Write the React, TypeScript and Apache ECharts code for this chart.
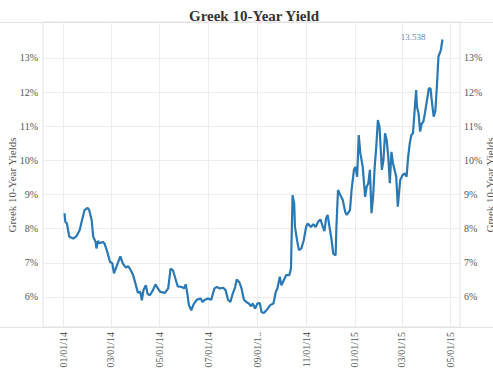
import React, { useEffect, useRef } from "react";
import * as echarts from "echarts";

const dates = [
  "2014-01-02","2014-01-03","2014-01-05","2014-01-08","2014-01-13","2014-01-17","2014-01-21","2014-01-24","2014-01-27","2014-01-31",
  "2014-02-02","2014-02-05","2014-02-07","2014-02-10","2014-02-11","2014-02-13","2014-02-15","2014-02-19","2014-02-21","2014-02-24","2014-02-28",
  "2014-03-03","2014-03-05","2014-03-08","2014-03-13","2014-03-16","2014-03-20","2014-03-23","2014-03-26","2014-03-29",
  "2014-04-01","2014-04-04","2014-04-07","2014-04-09","2014-04-11","2014-04-14","2014-04-16","2014-04-19","2014-04-23","2014-04-26","2014-04-29",
  "2014-05-02","2014-05-08","2014-05-12","2014-05-15","2014-05-18","2014-05-21","2014-05-24","2014-05-29",
  "2014-06-01","2014-06-03","2014-06-05","2014-06-07","2014-06-10","2014-06-13","2014-06-17","2014-06-22","2014-06-24","2014-06-27",
  "2014-07-01","2014-07-05","2014-07-09","2014-07-12","2014-07-16","2014-07-20","2014-07-23","2014-07-26","2014-07-29",
  "2014-08-01","2014-08-04","2014-08-06","2014-08-09","2014-08-12","2014-08-15","2014-08-18","2014-08-21","2014-08-24","2014-08-26","2014-08-29",
  "2014-09-01","2014-09-04","2014-09-06","2014-09-09","2014-09-13","2014-09-17","2014-09-21","2014-09-24","2014-09-26","2014-09-29",
  "2014-10-01","2014-10-04","2014-10-07","2014-10-11","2014-10-13","2014-10-15","2014-10-17","2014-10-18","2014-10-21","2014-10-23","2014-10-26","2014-10-29",
  "2014-11-01","2014-11-03","2014-11-07","2014-11-10","2014-11-13","2014-11-16","2014-11-19","2014-11-22","2014-11-24","2014-11-26","2014-11-28","2014-11-30",
  "2014-12-03","2014-12-05","2014-12-08","2014-12-09","2014-12-11","2014-12-14","2014-12-17","2014-12-20","2014-12-22","2014-12-26","2014-12-28","2014-12-31",
  "2015-01-02","2015-01-04","2015-01-06","2015-01-08","2015-01-11","2015-01-14","2015-01-16","2015-01-18","2015-01-20","2015-01-22","2015-01-24","2015-01-26","2015-01-28","2015-01-30",
  "2015-02-01","2015-02-04","2015-02-06","2015-02-08","2015-02-10","2015-02-12","2015-02-14","2015-02-16","2015-02-18","2015-02-22","2015-02-24","2015-02-27",
  "2015-03-02","2015-03-05","2015-03-07","2015-03-09","2015-03-11","2015-03-13","2015-03-15","2015-03-19","2015-03-20","2015-03-22","2015-03-24","2015-03-26","2015-03-28","2015-03-30",
  "2015-04-02","2015-04-04","2015-04-06","2015-04-08","2015-04-10","2015-04-12","2015-04-14","2015-04-16","2015-04-19","2015-04-21",
];

const yields = [
  8.45, 8.2, 8.15, 7.76, 7.71, 7.78, 7.96, 8.25, 8.54, 8.61,
  8.54, 8.25, 7.76, 7.61, 7.42, 7.64, 7.57, 7.61, 7.57, 7.37, 7.03,
  6.98, 6.69, 6.88, 7.19, 6.98, 6.86, 6.9, 6.78, 6.64,
  6.39, 6.12, 6.15, 5.9, 6.2, 6.34, 6.1, 6.05, 6.2, 6.37, 6.25,
  6.15, 6.12, 6.25, 6.83, 6.78, 6.54, 6.31, 6.29,
  6.25, 6.37, 6.1, 5.76, 5.61, 5.79, 5.92, 5.95, 5.85, 5.92,
  5.95, 5.92, 6.25, 6.29, 6.25, 6.27, 6.2, 5.92, 5.85,
  6.1, 6.29, 6.51, 6.44, 6.25, 5.92, 5.85, 5.81, 5.73, 5.81, 5.66,
  5.81, 5.82, 5.56, 5.53, 5.63, 5.76, 5.81, 6.15, 6.25, 6.59,
  6.34, 6.49, 6.64, 6.64, 6.83, 8.98, 8.74, 8.05, 7.61, 7.37, 7.42, 7.66,
  8.05, 8.15, 8.05, 8.13, 8.05, 8.2, 8.27, 8.05, 7.93, 8.3, 8.4, 8.1,
  7.66, 7.27, 7.22, 8.05, 9.13, 8.98, 8.84, 8.49, 8.4, 8.54, 9.13, 9.72,
  9.81, 9.52, 10.74, 10.21, 9.81, 8.93, 9.23, 9.33, 9.72, 8.45, 8.93, 9.81, 10.4, 11.18,
  10.99, 9.72, 10.01, 10.79, 10.6, 10.11, 9.33, 10.25, 9.91, 9.52, 8.64, 9.42,
  9.57, 9.62, 9.52, 10.11, 10.5, 10.74, 10.79, 12.06, 11.57, 11.38, 10.84, 11.08, 11.13, 11.38,
  11.82, 12.11, 12.11, 11.67, 11.28, 11.43, 12.16, 13.04, 13.23, 13.538,
];

const xTickDates = ["2014-01-01","2014-03-01","2014-05-01","2014-07-01","2014-09-01","2014-11-01","2015-01-01","2015-03-01","2015-05-01"];
const xTickLabels = ["01/01/14","03/01/14","05/01/14","07/01/14","09/01/1..","11/01/14","01/01/15","03/01/15","05/01/15"];
const yTickValues = [6, 7, 8, 9, 10, 11, 12, 13];

const title = "Greek 10-Year Yield";
const yAxisTitle = "Greek 10-Year Yields";

const DAY = 86400000;
const toTs = (s: string) => {
  const [y, m, d] = s.split("-").map(Number);
  return Date.UTC(y, m - 1, d);
};

export default function App() {
  const ref = useRef<HTMLDivElement>(null);
  useEffect(() => {
    if (!ref.current) return;
    const chart = echarts.init(ref.current, undefined, { renderer: "svg" });
    const tickTs = xTickDates.map(toTs);
    const data = dates.map((d, i) => [toTs(d), yields[i]]);
    const last = data[data.length - 1];
    const serif = '"Liberation Serif", "DejaVu Serif", serif';
    const labelColor = "#555";
    const gridColor = "#ededed";
    chart.setOption({
      animation: false,
      backgroundColor: "#fff",
      title: {
        text: title,
        left: 184,
        top: 3,
        textStyle: { fontFamily: serif, fontWeight: "bold", fontSize: 15, color: "#333" },
      },
      grid: {
        left: 43, right: 33, top: 22, bottom: 48,
        show: true, borderColor: "#e2e2e2", borderWidth: 1,
        containLabel: false, outerBoundsMode: "none",
      },
      xAxis: {
        type: "value",
        min: toTs("2013-12-06"),
        max: toTs("2015-05-13"),
        axisLine: { show: false },
        axisTick: { show: false, customValues: tickTs },
        splitLine: { show: true, lineStyle: { color: gridColor, width: 1 } },
        axisLabel: {
          customValues: tickTs,
          rotate: 90,
          margin: 5,
          fontFamily: serif,
          fontSize: 10,
          color: labelColor,
          formatter: (v: number) => {
            let best = 0;
            tickTs.forEach((t, i) => {
              if (Math.abs(t - v) < Math.abs(tickTs[best] - v)) best = i;
            });
            return Math.abs(tickTs[best] - v) < DAY ? xTickLabels[best] : "";
          },
        },
      },
      yAxis: [
        {
          type: "value",
          position: "left",
          min: 5.12,
          max: 14.05,
          axisLine: { show: false },
          axisTick: { show: false, customValues: yTickValues },
          splitLine: { show: true, lineStyle: { color: gridColor, width: 1 } },
          axisLabel: {
            customValues: yTickValues,
            margin: 5,
            fontFamily: serif,
            fontSize: 10,
            color: labelColor,
            formatter: (v: number) => Math.round(v) + "%",
          },
        },
        {
          type: "value",
          position: "right",
          min: 5.12,
          max: 14.05,
          axisLine: { show: false },
          axisTick: { show: false, customValues: yTickValues },
          splitLine: { show: false },
          axisLabel: {
            customValues: yTickValues,
            margin: 4,
            fontFamily: serif,
            fontSize: 10,
            color: labelColor,
            formatter: (v: number) => Math.round(v) + "%",
          },
        },
      ],
      series: [
        {
          type: "line",
          data,
          showSymbol: false,
          lineStyle: { color: "#2a78b4", width: 2.2 },
          itemStyle: { color: "#2a78b4" },
          markPoint: {
            symbol: "circle",
            symbolSize: 0,
            data: [{ coord: last, value: last[1] }],
            label: {
              show: true,
              position: "left",
              distance: 17,
              offset: [0, -2],
              formatter: "{c}",
              fontFamily: serif,
              fontSize: 9,
              color: "#7086a8",
            },
          },
        },
      ],
      graphic: [
        { type: "line", shape: { x1: 0, y1: 22.5, x2: 493, y2: 22.5 }, style: { stroke: "#e2e2e2", lineWidth: 1 }, silent: true },
        { type: "line", shape: { x1: 0, y1: 327.5, x2: 493, y2: 327.5 }, style: { stroke: "#e2e2e2", lineWidth: 1 }, silent: true },
        {
          type: "text", x: 12, y: 185, rotation: Math.PI / 2,
          style: { text: yAxisTitle, align: "center", verticalAlign: "middle", font: '11px "Liberation Serif"', fill: "#555" },
        },
        {
          type: "text", x: 490, y: 185, rotation: Math.PI / 2,
          style: { text: yAxisTitle, align: "center", verticalAlign: "middle", font: '11px "Liberation Serif"', fill: "#555" },
        },
      ],
    });
    return () => chart.dispose();
  }, []);
  return (
    <div
      ref={ref}
      style={{ position: "absolute", left: 0, top: 0, width: 493, height: 375, background: "#fff" }}
    />
  );
}
